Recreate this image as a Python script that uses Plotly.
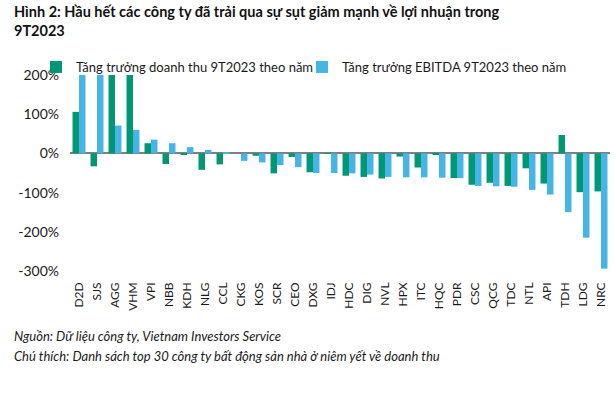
import plotly.graph_objects as go

categories = ["D2D", "SJS", "AGG", "VHM", "VPI", "NBB", "KDH", "NLG", "CCL", "CKG",
              "KOS", "SCR", "CEO", "DXG", "IDJ", "HDC", "DIG", "NVL", "HPX", "ITC",
              "HQC", "PDR", "CSC", "QCG", "TDC", "NTL", "API", "TDH", "LDG", "NRC"]
revenue_growth = [106, -33, 200, 200, 26, -27, -3, -42, -28, 0,
                  -6, -51, -9, -48, 1, -57, -60, -64, -8, -36,
                  -3, -63, -80, -75, -83, -38, -77, 47, -99, -97]
ebitda_growth = [200, 200, 71, 60, 35, 26, 16, 9, 3, -19,
                 -23, -30, -35, -50, -50, -51, -54, -60, -61, -61,
                 -62, -63, -83, -84, -85, -93, -105, -150, -215, -294]
y_ticks = [200, 100, 0, -100, -200, -300]
y_tick_labels = ["200%", "100%", "0%", "-100%", "-200%", "-300%"]

series_names = ["Tăng trưởng doanh thu 9T2023 theo năm", "Tăng trưởng EBITDA 9T2023 theo năm"]
GREEN = "#009874"
BLUE = "#45b5e6"
FONT = "Lato"
W, H = 614, 399
L, R, T, B = 70, 4, 75, 128
plot_h = H - T - B


def py(p):
    return (H - B - p) / plot_h


def px(p):
    return (p - L) / (W - L - R)


fig = go.Figure()
fig.add_trace(go.Bar(x=categories, y=revenue_growth, name=series_names[0],
                     marker=dict(color=GREEN, line=dict(width=0))))
fig.add_trace(go.Bar(x=categories, y=ebitda_growth, name=series_names[1],
                     marker=dict(color=BLUE, line=dict(width=0))))

fig.update_layout(
    width=W, height=H,
    margin=dict(l=L, r=R, t=T, b=B, autoexpand=False),
    paper_bgcolor="white", plot_bgcolor="white",
    barmode="group", bargap=0.28, bargroupgap=0,
    font=dict(family=FONT, size=12, color="#1a1a1a"),
    showlegend=True,
    legend=dict(orientation="h", x=px(36), xanchor="left", y=py(52), yanchor="top",
                font=dict(size=13, family=FONT, color="#1a1a1a"),
                itemwidth=30, entrywidth=221, entrywidthmode="pixels",
                bgcolor="rgba(0,0,0,0)", traceorder="normal"),
    xaxis=dict(tickangle=-90, showgrid=False, showline=False, ticks="",
               ticklabelstandoff=8,
               tickfont=dict(size=12, family=FONT, color="#1a1a1a"), zeroline=False),
    yaxis=dict(range=[-300, 200], tickvals=y_ticks, ticktext=y_tick_labels,
               showgrid=False, showline=False, ticks="", zeroline=True,
               ticklabelstandoff=10,
               zerolinecolor="#7f7f7f", zerolinewidth=1.5,
               tickfont=dict(size=14, family=FONT, color="#1a1a1a")),
    annotations=[
        dict(text="<b>Hình 2: Hầu hết các công ty đã trải qua sự sụt giảm mạnh về lợi nhuận trong<br>9T2023</b>",
             xref="paper", yref="paper", x=px(12), y=py(1), xanchor="left", yanchor="top",
             align="left", showarrow=False, font=dict(size=14.5, family=FONT, color="#111111")),
        dict(text="<i>Nguồn: Dữ liệu công ty, Vietnam Investors Service</i>",
             xref="paper", yref="paper", x=px(12), y=py(336), xanchor="left", yanchor="middle",
             align="left", showarrow=False, font=dict(size=13, family=FONT, color="#1a1a1a")),
        dict(text="<i>Chú thích: Danh sách top 30 công ty bất động sản nhà ở niêm yết về doanh thu</i>",
             xref="paper", yref="paper", x=px(12), y=py(356), xanchor="left", yanchor="middle",
             align="left", showarrow=False, font=dict(size=13, family=FONT, color="#1a1a1a")),
    ],
)

fig.write_html("out.html", config={"displayModeBar": False},
               post_script="document.body.style.margin='0';document.body.style.overflow='hidden';")
